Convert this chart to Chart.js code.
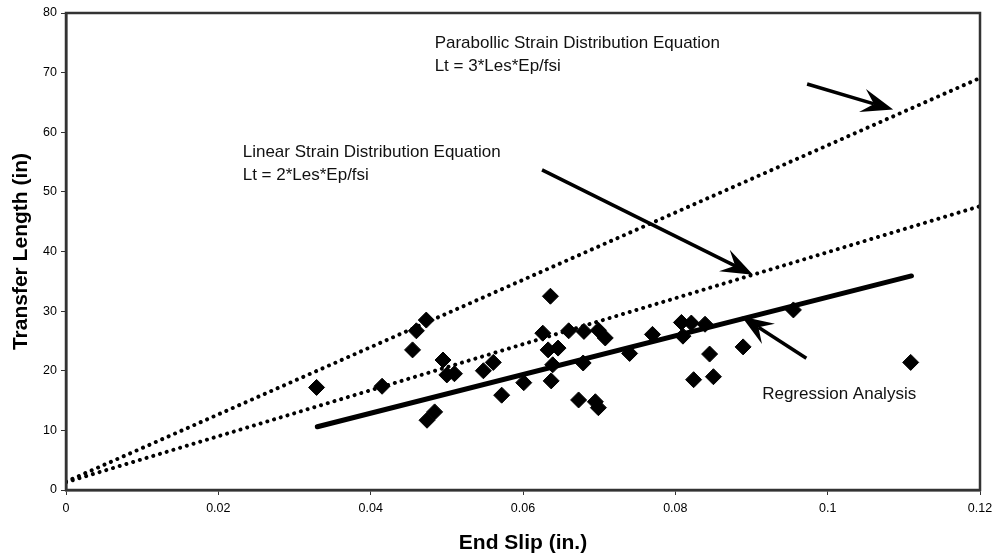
<!DOCTYPE html>
<html>

<head>
  <title>Transfer Length vs End Slip</title>
  <script src="https://cdn.jsdelivr.net/npm/chart.js"></script>
</head>

<body style="margin:0;background:#fff;">
  <div style="width:995px;height:556px;">
    <canvas id="slipChart"></canvas>
  </div>
  <script>
    // measured points
    var endSlip = [0.0329, 0.0415, 0.0455, 0.0460, 0.0473, 0.0474, 0.0484, 0.0495, 0.0500, 0.0510,
      0.0548, 0.0561, 0.0572, 0.0601, 0.0626, 0.0633, 0.0636, 0.0637, 0.0639, 0.0646,
      0.0660, 0.0673, 0.0679, 0.0680, 0.0695, 0.0699, 0.0699, 0.0708, 0.0740, 0.0770,
      0.0808, 0.0810, 0.0821, 0.0824, 0.0839, 0.0845, 0.0850, 0.0889, 0.0955, 0.1109];
    var transferLength = [17.2, 17.4, 23.5, 26.7, 28.5, 11.7, 13.1, 21.8, 19.3, 19.5,
      20.0, 21.4, 15.9, 18.0, 26.3, 23.5, 32.5, 18.3, 21.0, 23.8,
      26.7, 15.1, 21.3, 26.6, 14.8, 13.8, 26.8, 25.5, 22.9, 26.1,
      28.1, 25.8, 28.0, 18.5, 27.8, 22.8, 19.0, 24.0, 30.2, 21.4];

    // equation lines
    var parabolicX = [0, 0.12];
    var parabolicY = [1.4, 69.1];
    var linearX = [0, 0.12];
    var linearY = [1.3, 47.6];
    var regressionX = [0.033, 0.111];
    var regressionY = [10.6, 35.9];

    // axis ticks
    var xTickValues = [0, 0.02, 0.04, 0.06, 0.08, 0.1, 0.12];
    var xTickLabels = ['0', '0.02', '0.04', '0.06', '0.08', '0.1', '0.12'];
    var yTickValues = [0, 10, 20, 30, 40, 50, 60, 70, 80];
    var yTickLabels = ['0', '10', '20', '30', '40', '50', '60', '70', '80'];

    // annotations (data units)
    var notes = [
      { lines: ['Parabollic Strain Distribution Equation', 'Lt = 3*Les*Ep/fsi'], x: 0.0484, y: 74.9 },
      { lines: ['Linear Strain Distribution Equation', 'Lt = 2*Les*Ep/fsi'], x: 0.0232, y: 56.6 },
      { lines: ['Regression Analysis'], x: 0.0914, y: 16.1 }
    ];
    var arrows = [
      { from: [0.0973, 68.1], to: [0.1086, 63.8] },
      { from: [0.0625, 53.7], to: [0.0902, 36.1] },
      { from: [0.0972, 22.1], to: [0.0887, 29.1] }
    ];

    function pairs(xs, ys) {
      return xs.map(function (x, i) { return { x: x, y: ys[i] }; });
    }

    var FONT = 'Arial, "Liberation Sans", sans-serif';

    function drawArrow(ctx, x1, y1, x2, y2) {
      var dx = x2 - x1, dy = y2 - y1;
      var len = Math.sqrt(dx * dx + dy * dy);
      var ux = dx / len, uy = dy / len;
      var nx = -uy, ny = ux;
      var L = 32, W = 12, notch = 12;
      ctx.beginPath();
      ctx.moveTo(x1, y1);
      ctx.lineTo(x2 - ux * (L - notch), y2 - uy * (L - notch));
      ctx.lineWidth = 3.5;
      ctx.strokeStyle = '#000';
      ctx.stroke();
      ctx.beginPath();
      ctx.moveTo(x2, y2);
      ctx.lineTo(x2 - ux * L + nx * W, y2 - uy * L + ny * W);
      ctx.lineTo(x2 - ux * (L - notch), y2 - uy * (L - notch));
      ctx.lineTo(x2 - ux * L - nx * W, y2 - uy * L - ny * W);
      ctx.closePath();
      ctx.fillStyle = '#000';
      ctx.fill();
    }

    var notesPlugin = {
      id: 'notes',
      afterDraw: function (chart) {
        var ctx = chart.ctx;
        var xs = chart.scales.x, ys = chart.scales.y;
        var area = chart.chartArea;
        ctx.save();
        // frame
        ctx.strokeStyle = '#333';
        ctx.lineWidth = 2.5;
        ctx.strokeRect(area.left, area.top, area.right - area.left, area.bottom - area.top);
        // arrows
        arrows.forEach(function (a) {
          drawArrow(ctx, xs.getPixelForValue(a.from[0]), ys.getPixelForValue(a.from[1]),
            xs.getPixelForValue(a.to[0]), ys.getPixelForValue(a.to[1]));
        });
        // text
        ctx.fillStyle = '#111';
        ctx.font = '17px ' + FONT;
        ctx.textBaseline = 'middle';
        ctx.textAlign = 'left';
        notes.forEach(function (n) {
          var px = xs.getPixelForValue(n.x);
          var py = ys.getPixelForValue(n.y);
          n.lines.forEach(function (t, i) {
            ctx.fillText(t, px, py + i * 23);
          });
        });
        ctx.restore();
      }
    };

    var dotted = {
      borderColor: '#000',
      borderWidth: 4,
      borderDash: [0.01, 7],
      borderCapStyle: 'round',
      pointRadius: 0,
      showLine: true,
      fill: false
    };

    var ctx = document.getElementById('slipChart').getContext('2d');
    var chart = new Chart(ctx, {
      type: 'scatter',
      data: {
        datasets: [
          Object.assign({ label: 'Parabolic', data: pairs(parabolicX, parabolicY) }, dotted),
          Object.assign({ label: 'Linear', data: pairs(linearX, linearY) }, dotted),
          {
            label: 'Regression',
            data: pairs(regressionX, regressionY),
            showLine: true,
            borderColor: '#000',
            borderWidth: 5,
            borderCapStyle: 'round',
            pointRadius: 0
          },
          {
            label: 'Measured',
            data: pairs(endSlip, transferLength),
            pointStyle: 'rectRot',
            pointRadius: 8,
            backgroundColor: '#000',
            borderColor: '#000',
            borderWidth: 1
          }
        ]
      },
      options: {
        responsive: true,
        maintainAspectRatio: false,
        animation: false,
        layout: { padding: { top: 13, right: 15, left: 0, bottom: 0 } },
        plugins: {
          legend: { display: false },
          tooltip: { enabled: false }
        },
        scales: {
          x: {
            type: 'linear',
            min: 0,
            max: 0.12,
            afterFit: function (s) {
              s.height = 66;
              s.paddingLeft = 0;
              s.paddingRight = 0;
            },
            afterBuildTicks: function (s) {
              s.ticks = xTickValues.map(function (v) { return { value: v }; });
            },
            ticks: {
              color: '#000',
              font: { family: FONT, size: 12.5 },
              padding: 6,
              maxRotation: 0,
              callback: function (v, i) { return xTickLabels[i]; }
            },
            grid: { drawOnChartArea: false, drawTicks: true, tickLength: 5, color: '#333' },
            border: { display: true, color: '#333', width: 2.5 },
            title: {
              display: true,
              text: 'End Slip (in.)',
              color: '#000',
              font: { family: FONT, size: 21, weight: 'bold' },
              padding: { top: 0, bottom: 0 }
            }
          },
          y: {
            type: 'linear',
            min: 0,
            max: 80,
            afterFit: function (s) {
              s.width = 66;
              s.paddingTop = 0;
              s.paddingBottom = 0;
            },
            afterBuildTicks: function (s) {
              s.ticks = yTickValues.map(function (v) { return { value: v }; });
            },
            ticks: {
              color: '#000',
              font: { family: FONT, size: 12.5 },
              padding: 4,
              callback: function (v, i) { return yTickLabels[i]; }
            },
            grid: { drawOnChartArea: false, drawTicks: true, tickLength: 5, color: '#333' },
            border: { display: true, color: '#333', width: 2.5 },
            title: {
              display: true,
              text: 'Transfer Length (in)',
              color: '#000',
              font: { family: FONT, size: 21, weight: 'bold' },
              padding: { top: 9, bottom: 0 }
            }
          }
        }
      },
      plugins: [notesPlugin]
    });
  </script>
</body>

</html>
